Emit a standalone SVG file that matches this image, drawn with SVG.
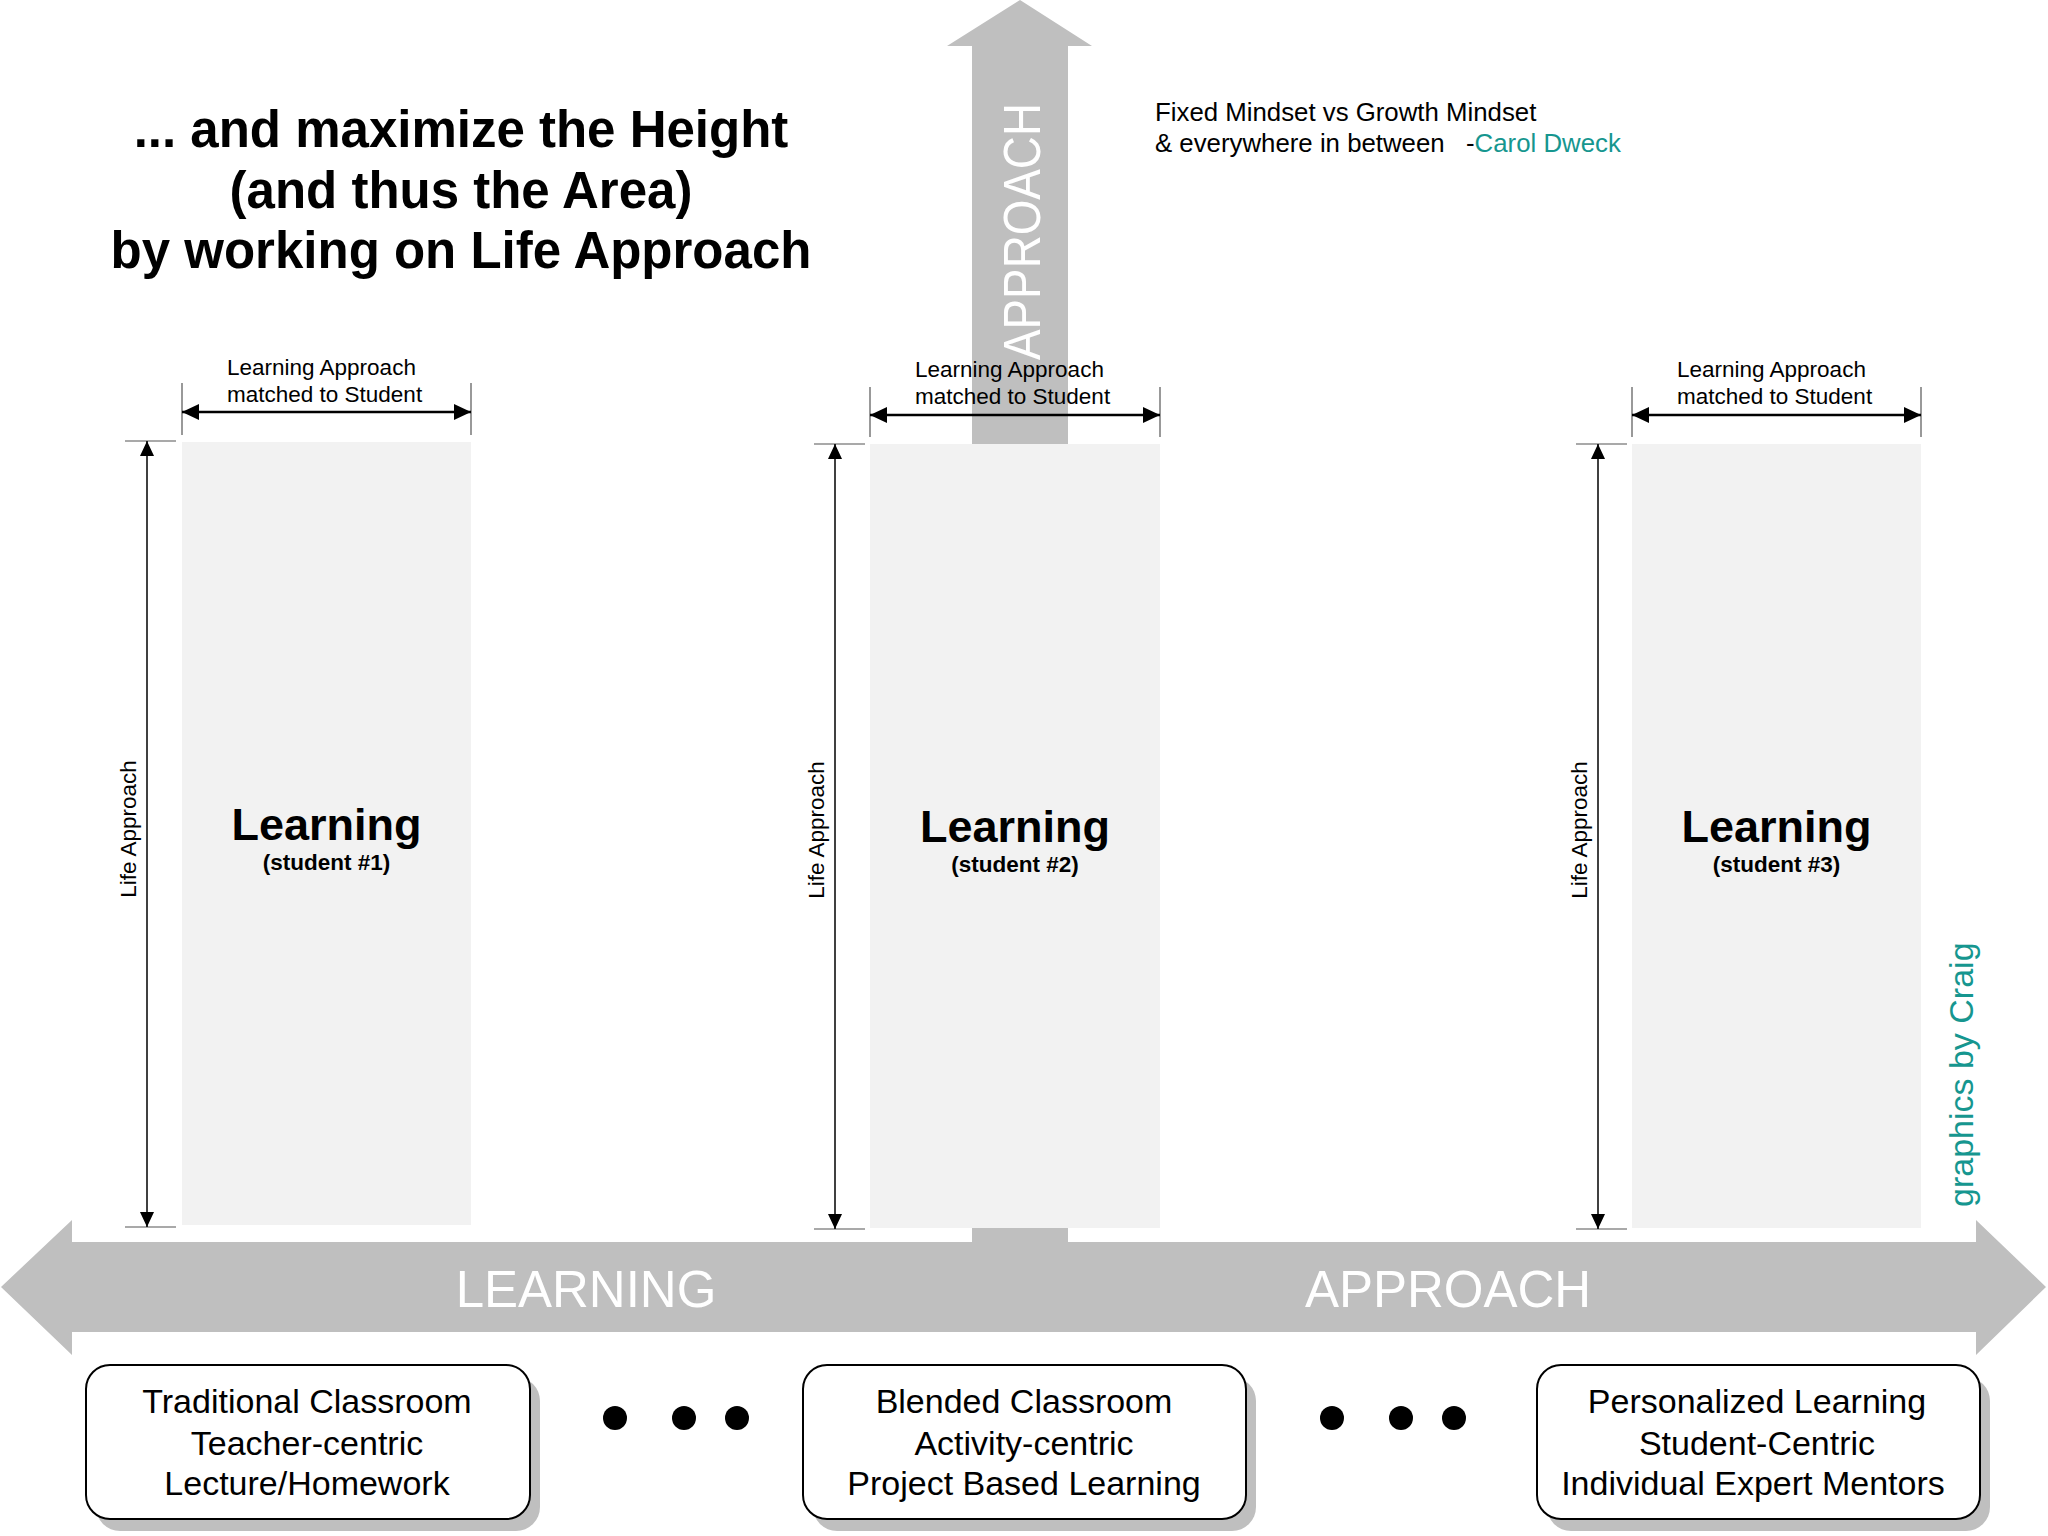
<svg xmlns="http://www.w3.org/2000/svg" width="2048" height="1536" viewBox="0 0 2048 1536">
<defs>
<style>
text{font-family:"Liberation Sans",Arial,sans-serif;}
.title{font-size:51px;font-weight:bold;fill:#000;text-anchor:middle;}
.quote{font-size:25.8px;fill:#000;}
.teal{fill:#16968f;}
.dimlbl{font-size:22.5px;fill:#000;}
.big{font-size:45px;font-weight:bold;fill:#000;text-anchor:middle;}
.sub{font-size:22.5px;font-weight:bold;fill:#000;text-anchor:middle;}
.arrowtxt{font-size:51px;fill:#fff;}
.boxtxt{font-size:34px;fill:#000;text-anchor:middle;}
.col{fill:#f2f2f2;}
.gray{fill:#bfbfbf;}
.dimh{stroke:#000;stroke-width:2.5;fill:none;}
.dimv{stroke:#000;stroke-width:1.5;fill:none;}
.ext{stroke:#555;stroke-width:1.2;fill:none;}
.card{fill:#fff;stroke:#000;stroke-width:2;}
.shadow{fill:#bfbfbf;}
</style>
<marker id="ah" markerUnits="userSpaceOnUse" markerWidth="18" markerHeight="16" refX="17" refY="8" orient="auto-start-reverse">
<path d="M0,0 L17,8 L0,16 z" fill="#000"/>
</marker>
<marker id="av" markerUnits="userSpaceOnUse" markerWidth="16" markerHeight="14" refX="15" refY="7" orient="auto-start-reverse">
<path d="M0,0 L15,7 L0,14 z" fill="#000"/>
</marker>
</defs>
<rect width="2048" height="1536" fill="#fff"/>

<g id="life-arrow">
<path class="gray" d="M972,1250 L972,46 L947,46 L1020,0 L1092,46 L1068,46 L1068,1250 z"/>
<text class="arrowtxt" transform="translate(1040,360) rotate(-90)" textLength="257" lengthAdjust="spacingAndGlyphs">APPROACH</text>
</g>

<g id="learning-arrow">
<path class="gray" d="M1,1287 L72,1220 L72,1242 L1976,1242 L1976,1220 L2046,1287 L1976,1355 L1976,1332 L72,1332 L72,1355 z"/>
<text class="arrowtxt" x="586" y="1307" text-anchor="middle">LEARNING</text>
<text class="arrowtxt" x="1448" y="1307" text-anchor="middle">APPROACH</text>
</g>

<g id="title">
<text class="title" x="461" y="147">... and maximize the Height</text>
<text class="title" x="461" y="208">(and thus the Area)</text>
<text class="title" x="461" y="268">by working on Life Approach</text>
</g>

<g id="quote">
<text class="quote" x="1155" y="121">Fixed Mindset vs Growth Mindset</text>
<text class="quote" x="1155" y="152">&amp; everywhere in between</text>
<text class="quote" x="1466" y="152">-<tspan class="teal">Carol Dweck</tspan></text>
</g>

<g id="student1">
<rect class="col" x="182" y="442" width="289" height="783"/>
<text class="big" x="326.5" y="840">Learning</text>
<text class="sub" x="326.5" y="870">(student #1)</text>
</g>
<g id="student2">
<rect class="col" x="870" y="444" width="290" height="784"/>
<text class="big" x="1015" y="842">Learning</text>
<text class="sub" x="1015" y="872">(student #2)</text>
</g>
<g id="student3">
<rect class="col" x="1632" y="444" width="289" height="784"/>
<text class="big" x="1776.5" y="842">Learning</text>
<text class="sub" x="1776.5" y="872">(student #3)</text>
</g>

<g id="connectors">
<line class="ext" x1="182" y1="383" x2="182" y2="435"/>
<line class="ext" x1="471" y1="383" x2="471" y2="435"/>
<line class="dimh" x1="182" y1="412" x2="471" y2="412" marker-start="url(#ah)" marker-end="url(#ah)"/>
<line class="ext" x1="870" y1="387" x2="870" y2="437"/>
<line class="ext" x1="1160" y1="387" x2="1160" y2="437"/>
<line class="dimh" x1="870" y1="415" x2="1160" y2="415" marker-start="url(#ah)" marker-end="url(#ah)"/>
<line class="ext" x1="1632" y1="387" x2="1632" y2="437"/>
<line class="ext" x1="1921" y1="387" x2="1921" y2="437"/>
<line class="dimh" x1="1632" y1="415" x2="1921" y2="415" marker-start="url(#ah)" marker-end="url(#ah)"/>

<line class="ext" x1="125" y1="441" x2="176" y2="441"/>
<line class="ext" x1="125" y1="1227" x2="176" y2="1227"/>
<line class="dimv" x1="147" y1="441" x2="147" y2="1227" marker-start="url(#av)" marker-end="url(#av)"/>
<line class="ext" x1="814" y1="444" x2="865" y2="444"/>
<line class="ext" x1="814" y1="1229" x2="865" y2="1229"/>
<line class="dimv" x1="835" y1="444" x2="835" y2="1229" marker-start="url(#av)" marker-end="url(#av)"/>
<line class="ext" x1="1576" y1="444" x2="1627" y2="444"/>
<line class="ext" x1="1576" y1="1229" x2="1627" y2="1229"/>
<line class="dimv" x1="1598" y1="444" x2="1598" y2="1229" marker-start="url(#av)" marker-end="url(#av)"/>
</g>

<g id="dim-labels">
<text class="dimlbl" x="227" y="375">Learning Approach</text>
<text class="dimlbl" x="227" y="402">matched to Student</text>
<text class="dimlbl" x="915" y="377">Learning Approach</text>
<text class="dimlbl" x="915" y="404">matched to Student</text>
<text class="dimlbl" x="1677" y="377">Learning Approach</text>
<text class="dimlbl" x="1677" y="404">matched to Student</text>
<text class="dimlbl" transform="translate(136,829) rotate(-90)" text-anchor="middle">Life Approach</text>
<text class="dimlbl" transform="translate(824,830) rotate(-90)" text-anchor="middle">Life Approach</text>
<text class="dimlbl" transform="translate(1587,830) rotate(-90)" text-anchor="middle">Life Approach</text>
</g>

<g id="card-traditional">
<rect class="shadow" x="96" y="1377" width="444" height="154" rx="24"/>
<rect class="card" x="86" y="1365" width="444" height="154" rx="24"/>
<text class="boxtxt" x="307" y="1413">Traditional Classroom</text>
<text class="boxtxt" x="307" y="1455">Teacher-centric</text>
<text class="boxtxt" x="307" y="1495">Lecture/Homework</text>
</g>
<g id="card-blended">
<rect class="shadow" x="813" y="1377" width="443" height="154" rx="24"/>
<rect class="card" x="803" y="1365" width="443" height="154" rx="24"/>
<text class="boxtxt" x="1024" y="1413">Blended Classroom</text>
<text class="boxtxt" x="1024" y="1455">Activity-centric</text>
<text class="boxtxt" x="1024" y="1495">Project Based Learning</text>
</g>
<g id="card-personalized">
<rect class="shadow" x="1547" y="1377" width="443" height="154" rx="24"/>
<rect class="card" x="1537" y="1365" width="443" height="154" rx="24"/>
<text class="boxtxt" x="1757" y="1413">Personalized Learning</text>
<text class="boxtxt" x="1757" y="1455">Student-Centric</text>
<text class="boxtxt" x="1753" y="1495">Individual Expert Mentors</text>
</g>

<g id="dots">
<circle cx="615" cy="1418" r="12"/>
<circle cx="684" cy="1418" r="12"/>
<circle cx="737" cy="1418" r="12"/>
<circle cx="1332" cy="1418" r="12"/>
<circle cx="1401" cy="1418" r="12"/>
<circle cx="1454" cy="1418" r="12"/>
</g>

<g id="credit">
<text class="teal" transform="translate(1973,1207) rotate(-90)" style="font-size:34px">graphics by Craig</text>
</g>
</svg>
